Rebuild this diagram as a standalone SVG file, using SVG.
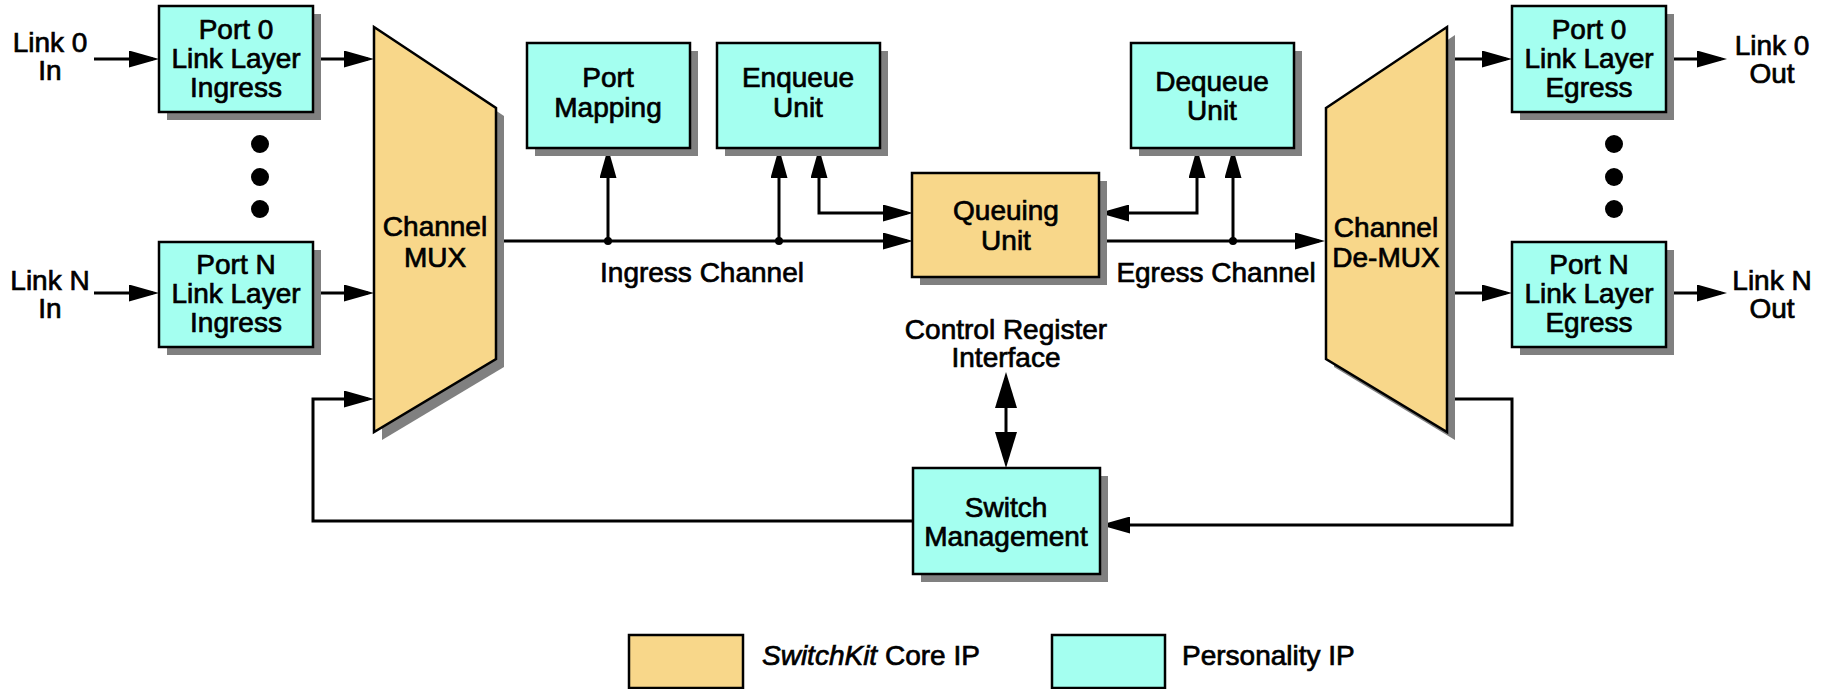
<svg xmlns="http://www.w3.org/2000/svg" width="1829" height="689" viewBox="0 0 1829 689">
<style>
  text { font-family: "Liberation Sans", Arial, sans-serif; font-size: 28px; fill: #000; stroke: #000; stroke-width: 0.7; text-anchor: middle; }
  .lg { text-anchor: start; }
  .cy { fill: #a4fff0; stroke: #000; stroke-width: 2.5; }
  .or { fill: #f8d78a; stroke: #000; stroke-width: 2.5; }
  .sh { fill: #808080; }
  .ln { fill: none; stroke: #000; stroke-width: 3; }
  .arr { marker-end: url(#ah); }
  .arr2 { marker-start: url(#ah); marker-end: url(#ah); }
</style>
<defs>
  <marker id="ah" markerUnits="userSpaceOnUse" markerWidth="30" markerHeight="17" refX="24" refY="8.5" orient="auto-start-reverse" viewBox="0 0 30 17">
    <path d="M0,0 L30,8.5 L0,17 z" fill="#000"/>
  </marker>
  <marker id="big" markerUnits="userSpaceOnUse" markerWidth="36" markerHeight="22" refX="30" refY="11" orient="auto-start-reverse" viewBox="0 0 36 22">
    <path d="M0,0 L36,11 L0,22 z" fill="#000"/>
  </marker>
</defs>
<rect width="1829" height="689" fill="#fff"/>

<g id="connectors">
  <line class="ln arr" x1="94" y1="59" x2="153" y2="59"/>
  <line class="ln arr" x1="94" y1="293" x2="153" y2="293"/>
  <line class="ln arr" x1="313" y1="59" x2="368" y2="59"/>
  <line class="ln arr" x1="313" y1="293" x2="368" y2="293"/>
  <line class="ln arr" x1="496" y1="241" x2="907" y2="241"/>
  <line class="ln arr" x1="608" y1="241" x2="608" y2="154"/>
  <line class="ln arr" x1="779" y1="241" x2="779" y2="154"/>
  <circle cx="608" cy="241" r="4"/>
  <circle cx="779" cy="241" r="4"/>
  <path class="ln arr2" d="M819,154 L819,213 L907,213"/>
  <path class="ln arr2" d="M1105,213 L1197,213 L1197,154"/>
  <line class="ln arr" x1="1099" y1="241" x2="1319" y2="241"/>
  <line class="ln arr" x1="1233" y1="241" x2="1233" y2="154"/>
  <circle cx="1233" cy="241" r="4"/>
  <line class="ln arr" x1="1447" y1="59" x2="1506" y2="59"/>
  <line class="ln arr" x1="1447" y1="293" x2="1506" y2="293"/>
  <line class="ln arr" x1="1666" y1="59" x2="1721" y2="59"/>
  <line class="ln arr" x1="1666" y1="293" x2="1721" y2="293"/>
  <path class="ln arr" d="M913,521 L313,521 L313,399 L368,399"/>
  <path class="ln arr" d="M1447,399 L1512,399 L1512,525 L1106,525"/>
  <line class="ln" x1="1006" y1="378" x2="1006" y2="462" marker-start="url(#big)" marker-end="url(#big)"/>
</g>

<g id="labels">
  <text x="50" y="52">Link 0</text><text x="50" y="80">In</text>
  <text x="50" y="290">Link N</text><text x="50" y="318">In</text>
  <text x="1772" y="55">Link 0</text><text x="1772" y="83">Out</text>
  <text x="1772" y="290">Link N</text><text x="1772" y="318">Out</text>
  <text x="702" y="282">Ingress Channel</text>
  <text x="1216" y="282">Egress Channel</text>
  <text x="1006" y="339">Control Register</text>
  <text x="1006" y="367">Interface</text>
</g>

<g id="dots-in">
  <circle cx="260" cy="144" r="9"/><circle cx="260" cy="177" r="9"/><circle cx="260" cy="209" r="9"/>
</g>
<g id="dots-out">
  <circle cx="1614" cy="144" r="9"/><circle cx="1614" cy="177" r="9"/><circle cx="1614" cy="209" r="9"/>
</g>

<g id="port0-ingress">
  <rect class="sh" x="167" y="14" width="154" height="106"/>
  <rect class="cy" x="159" y="6" width="154" height="106"/>
  <text x="236" y="39">Port 0</text><text x="236" y="68">Link Layer</text><text x="236" y="97">Ingress</text>
</g>
<g id="portN-ingress">
  <rect class="sh" x="167" y="250" width="154" height="105"/>
  <rect class="cy" x="159" y="242" width="154" height="105"/>
  <text x="236" y="274">Port N</text><text x="236" y="303">Link Layer</text><text x="236" y="332">Ingress</text>
</g>
<g id="channel-mux">
  <polygon class="sh" points="382,35 504,116 504,367 382,440"/>
  <polygon class="or" points="374,27 496,108 496,359 374,432"/>
  <text x="435" y="236">Channel</text><text x="435" y="267">MUX</text>
</g>
<g id="port-mapping">
  <rect class="sh" x="535" y="51" width="163" height="105"/>
  <rect class="cy" x="527" y="43" width="163" height="105"/>
  <text x="608" y="87">Port</text><text x="608" y="117">Mapping</text>
</g>
<g id="enqueue-unit">
  <rect class="sh" x="725" y="51" width="163" height="105"/>
  <rect class="cy" x="717" y="43" width="163" height="105"/>
  <text x="798" y="87">Enqueue</text><text x="798" y="117">Unit</text>
</g>
<g id="queuing-unit">
  <rect class="sh" x="920" y="181" width="187" height="104"/>
  <rect class="or" x="912" y="173" width="187" height="104"/>
  <text x="1006" y="220">Queuing</text><text x="1006" y="250">Unit</text>
</g>
<g id="dequeue-unit">
  <rect class="sh" x="1139" y="51" width="163" height="105"/>
  <rect class="cy" x="1131" y="43" width="163" height="105"/>
  <text x="1212" y="91">Dequeue</text><text x="1212" y="120">Unit</text>
</g>
<g id="channel-demux">
  <polygon class="sh" points="1334,116 1455,35 1455,440 1334,367"/>
  <polygon class="or" points="1326,108 1447,27 1447,432 1326,359"/>
  <text x="1386" y="237">Channel</text><text x="1386" y="267">De-MUX</text>
</g>
<g id="port0-egress">
  <rect class="sh" x="1520" y="14" width="154" height="106"/>
  <rect class="cy" x="1512" y="6" width="154" height="106"/>
  <text x="1589" y="39">Port 0</text><text x="1589" y="68">Link Layer</text><text x="1589" y="97">Egress</text>
</g>
<g id="portN-egress">
  <rect class="sh" x="1520" y="250" width="154" height="105"/>
  <rect class="cy" x="1512" y="242" width="154" height="105"/>
  <text x="1589" y="274">Port N</text><text x="1589" y="303">Link Layer</text><text x="1589" y="332">Egress</text>
</g>
<g id="switch-management">
  <rect class="sh" x="921" y="476" width="187" height="106"/>
  <rect class="cy" x="913" y="468" width="187" height="106"/>
  <text x="1006" y="517">Switch</text><text x="1006" y="546">Management</text>
</g>

<g id="legend">
  <rect class="or" x="629" y="635" width="114" height="53"/>
  <text class="lg" x="762" y="665"><tspan font-style="italic">SwitchKit</tspan> Core IP</text>
  <rect class="cy" x="1052" y="635" width="113" height="53"/>
  <text class="lg" x="1182" y="665">Personality IP</text>
</g>
</svg>
